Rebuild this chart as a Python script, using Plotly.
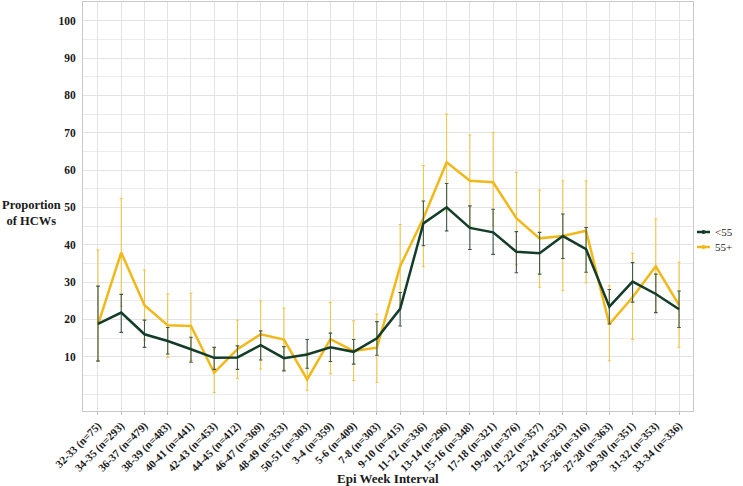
import plotly.graph_objects as go

weeks = ["32-33", "34-35", "36-37", "38-39", "40-41", "42-43", "44-45", "46-47", "48-49", "50-51",
         "3-4", "5-6", "7-8", "9-10", "11-12", "13-14", "15-16", "17-18", "19-20", "21-22",
         "23-24", "25-26", "27-28", "29-30", "31-32", "33-34"]
n_counts = [75, 293, 479, 483, 441, 453, 412, 369, 353, 303,
            359, 409, 303, 415, 336, 296, 348, 321, 376, 357,
            323, 316, 363, 351, 353, 336]

under55 = [18.8, 21.8, 16.0, 14.2, 12.0, 9.7, 9.8, 13.1, 9.6, 10.6,
           12.5, 11.3, 14.9, 22.8, 45.7, 50.0, 44.5, 43.3, 38.1, 37.7,
           42.3, 38.8, 23.4, 30.1, 26.8, 22.7]
under55_lo = [8.8, 16.5, 12.5, 10.7, 8.5, 6.6, 6.6, 9.1, 6.2, 6.9,
              8.7, 8.0, 10.4, 18.2, 39.7, 43.7, 38.7, 37.4, 32.5, 32.1,
              36.3, 32.6, 18.75, 24.6, 21.8, 17.8]
under55_hi = [28.9, 26.7, 19.8, 17.8, 15.2, 12.5, 12.9, 16.9, 12.7, 14.6,
              16.3, 14.6, 19.4, 27.2, 51.7, 56.4, 50.4, 49.5, 43.5, 43.3,
              48.2, 44.6, 28.0, 35.2, 32.1, 27.6]

over55 = [18.6, 37.9, 23.8, 18.4, 18.2, 5.7, 12.0, 16.0, 14.6, 3.9,
          14.7, 11.5, 12.4, 34.2, 47.1, 62.1, 57.1, 56.7, 47.1, 41.7,
          42.3, 43.7, 18.7, 25.9, 34.2, 23.8]
over55_lo = [9.0, 23.5, 14.5, 9.8, 9.0, 0.4, 4.2, 6.7, 6.5, 1.0,
             5.4, 3.6, 3.1, 24.0, 34.1, 49.0, 45.0, 45.0, 34.6, 28.6,
             27.7, 29.8, 8.9, 14.6, 22.0, 12.5]
over55_hi = [38.6, 52.4, 33.2, 26.8, 27.0, 12.0, 19.8, 24.9, 23.0, 11.0,
             24.5, 19.6, 21.4, 45.4, 61.2, 75.0, 69.4, 70.0, 59.4, 54.6,
             57.1, 57.1, 29.0, 37.7, 46.9, 35.3]

y_ticks = [10, 20, 30, 40, 50, 60, 70, 80, 90, 100]

labels = [f"{w} (n={n})" for w, n in zip(weeks, n_counts)]

DARK = "#133d28"
GOLD = "#f2b81a"
FONT = "Liberation Serif"

fig = go.Figure()

fig.add_trace(go.Scatter(
    x=labels, y=over55, mode="lines", name="55+",
    line=dict(color=GOLD, width=2.5),
    error_y=dict(type="data", symmetric=False,
                 array=[h - v for h, v in zip(over55_hi, over55)],
                 arrayminus=[v - l for v, l in zip(over55, over55_lo)],
                 color="#efc441", thickness=1, width=1.5),
    showlegend=False,
))
fig.add_trace(go.Scatter(
    x=labels, y=under55, mode="lines", name="<55",
    line=dict(color=DARK, width=2.5),
    error_y=dict(type="data", symmetric=False,
                 array=[h - v for h, v in zip(under55_hi, under55)],
                 arrayminus=[v - l for v, l in zip(under55, under55_lo)],
                 color="#3f5a4b", thickness=1.1, width=1.8),
    showlegend=False,
))

fig.update_layout(
    width=743, height=486,
    margin=dict(l=83, r=50, t=2, b=75),
    paper_bgcolor="white", plot_bgcolor="white",
    font=dict(family=FONT, color="#1a1a1a"),
    xaxis=dict(
        type="category", categoryorder="array", categoryarray=labels,
        range=[-0.645, 25.6],
        tickangle=-45,
        tickfont=dict(family=FONT, size=11, color="#1a1a1a", weight="bold"),
        showgrid=True, gridcolor="#e3e3e3", gridwidth=1,
        ticks="outside", ticklen=3, tickcolor="#bdbdbd",
        showline=True, linecolor="#c8c8c8", mirror=True, linewidth=1,
        zeroline=False,
    ),
    yaxis=dict(
        range=[-4.55, 105],
        tickvals=y_ticks,
        tickfont=dict(family=FONT, size=11.5, color="#1a1a1a", weight="bold"),
        showgrid=True, gridcolor="#e3e3e3", gridwidth=1,
        minor=dict(tick0=0, dtick=5, showgrid=True, gridcolor="#ebebeb", gridwidth=1),
        ticks="", ticklabelstandoff=4,
        showline=True, linecolor="#c8c8c8", mirror=True, linewidth=1,
        zeroline=False,
    ),
    showlegend=False,
)

# axis titles
fig.add_annotation(text="<b>Epi Week Interval</b>", xref="paper", yref="paper",
                   x=0.5, y=-0.164, showarrow=False, xanchor="center", yanchor="middle",
                   font=dict(family=FONT, size=13, color="#1a1a1a"))
fig.add_annotation(text="<b>Proportion<br>of HCWs</b>", xref="paper", yref="paper",
                   x=-0.085, y=0.484, showarrow=False, xanchor="center", yanchor="middle",
                   align="center", font=dict(family=FONT, size=12.5, color="#1a1a1a"))

# custom legend
def px_x(px):
    return (px - 83) / 610.0

def px_y(py):
    return (411 - py) / 409.0

for name, col, py in [("<55", DARK, 232), ("55+", GOLD, 247)]:
    fig.add_shape(type="line", xref="paper", yref="paper",
                  x0=px_x(697), x1=px_x(710), y0=px_y(py), y1=px_y(py),
                  line=dict(color=col, width=2.5))
    fig.add_shape(type="circle", xref="paper", yref="paper",
                  x0=px_x(701.5), x1=px_x(705.5), y0=px_y(py + 2), y1=px_y(py - 2),
                  line=dict(color=col, width=0), fillcolor=col)
    fig.add_annotation(text=name, xref="paper", yref="paper",
                       x=px_x(713), y=px_y(py), showarrow=False,
                       xanchor="left", yanchor="middle",
                       font=dict(family=FONT, size=11, color="#1a1a1a"))

fig.write_html("out.html", config={"displayModeBar": False},
               post_script="document.body.style.margin='0px';document.body.style.overflow='hidden';")
